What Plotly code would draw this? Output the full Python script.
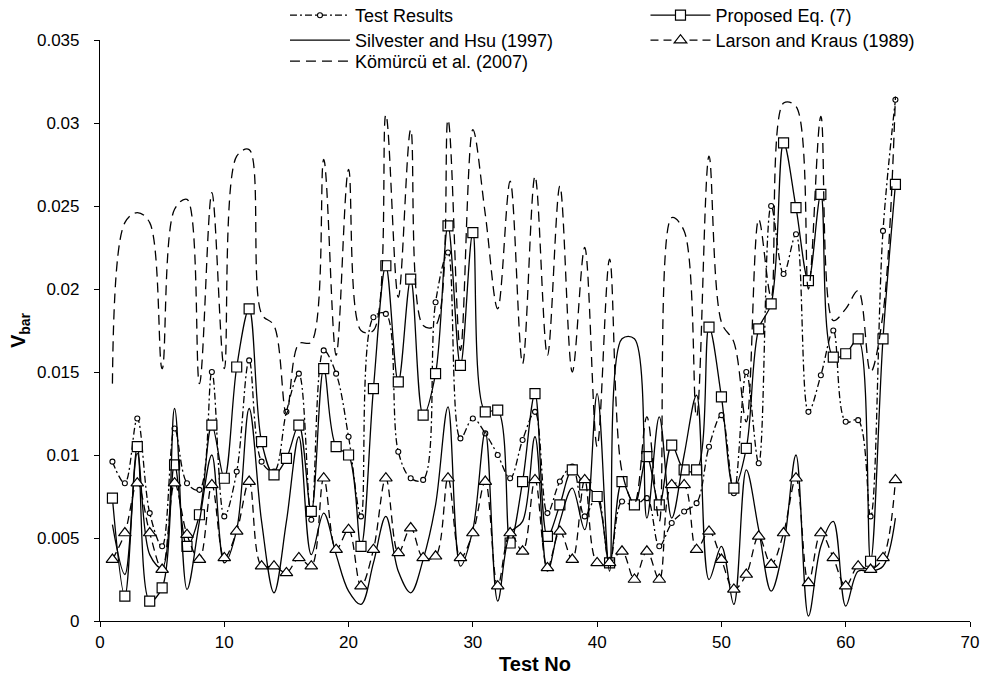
import plotly.graph_objects as go

test_no = list(range(1, 65))

test_results = [0.0096, 0.0083, 0.0122, 0.0065, 0.0045, 0.0116, 0.0083, 0.0079, 0.0150, 0.0063,
                0.0090, 0.0157, 0.0096, 0.0090, 0.0126, 0.0149, 0.0061, 0.0163, 0.0149, 0.0111,
                0.0063, 0.0183, 0.0185, 0.0102, 0.0086, 0.0085, 0.0192, 0.0222, 0.0110, 0.0122,
                0.0113, 0.0100, 0.0086, 0.0109, 0.0126, 0.0065, 0.0084, 0.0093, 0.0063, 0.0076,
                0.0034, 0.0072, 0.0069, 0.0074, 0.0045, 0.0059, 0.0066, 0.0071, 0.0105, 0.0124,
                0.0077, 0.0150, 0.0095, 0.0250, 0.0209, 0.0233, 0.0126, 0.0148, 0.0175, 0.0120,
                0.0121, 0.0063, 0.0235, 0.0314]

proposed = [0.0074, 0.0015, 0.0105, 0.0012, 0.0020, 0.0094, 0.0045, 0.0064, 0.0118, 0.0086,
            0.0153, 0.0188, 0.0108, 0.0088, 0.0098, 0.0118, 0.0066, 0.0152, 0.0105, 0.0100,
            0.0045, 0.0140, 0.0214, 0.0144, 0.0206, 0.0124, 0.0149, 0.0238, 0.0154, 0.0234,
            0.0126, 0.0127, 0.0047, 0.0084, 0.0137, 0.0051, 0.0070, 0.0091, 0.0082, 0.0075,
            0.0035, 0.0084, 0.0070, 0.0099, 0.0070, 0.0106, 0.0091, 0.0091, 0.0177, 0.0135,
            0.0080, 0.0104, 0.0176, 0.0191, 0.0288, 0.0249, 0.0205, 0.0257, 0.0159, 0.0161,
            0.0170, 0.0036, 0.0170, 0.0263]

silvester = [0.0058, 0.0028, 0.0101, 0.0040, 0.0032, 0.0128, 0.0019, 0.0060, 0.0100, 0.0035,
             0.0055, 0.0128, 0.0060, 0.0017, 0.0060, 0.0111, 0.0040, 0.0065, 0.0040, 0.0018,
             0.0010, 0.0035, 0.0063, 0.0030, 0.0017, 0.0037, 0.0070, 0.0129, 0.0033, 0.0055,
             0.0114, 0.0012, 0.0053, 0.0060, 0.0111, 0.0030, 0.0060, 0.0080, 0.0055, 0.0137,
             0.0030, 0.0170, 0.0170, 0.0062, 0.0123, 0.0062, 0.0100, 0.0136, 0.0025, 0.0045,
             0.0010, 0.0091, 0.0055, 0.0018, 0.0045, 0.0100, 0.0003, 0.0045, 0.0060, 0.0009,
             0.0030, 0.0030, 0.0033, 0.0062]

larson = [0.0037, 0.0053, 0.0083, 0.0053, 0.0031, 0.0083, 0.0052, 0.0037, 0.0082, 0.0038,
          0.0054, 0.0084, 0.0033, 0.0033, 0.0029, 0.0038, 0.0033, 0.0086, 0.0043, 0.0055,
          0.0021, 0.0043, 0.0086, 0.0041, 0.0056, 0.0038, 0.0039, 0.0086, 0.0038, 0.0053,
          0.0084, 0.0021, 0.0053, 0.0042, 0.0085, 0.0032, 0.0054, 0.0037, 0.0085, 0.0035,
          0.0035, 0.0042, 0.0025, 0.0042, 0.0025, 0.0082, 0.0082, 0.0043, 0.0054, 0.0037,
          0.0019, 0.0028, 0.0051, 0.0034, 0.0053, 0.0086, 0.0023, 0.0053, 0.0038, 0.0021,
          0.0033, 0.0031, 0.0038, 0.0085]

komurcu = [0.0143, 0.0240, 0.0246, 0.0240, 0.0152, 0.0248, 0.0254, 0.0143, 0.0258, 0.0152,
           0.0280, 0.0284, 0.0185, 0.0178, 0.0125, 0.0167, 0.0168, 0.0278, 0.0160, 0.0272,
           0.0175, 0.0175, 0.0305, 0.0195, 0.0296, 0.0178, 0.0178, 0.0302, 0.0163, 0.0296,
           0.0245, 0.0188, 0.0265, 0.0155, 0.0268, 0.0160, 0.0262, 0.0150, 0.0225, 0.0105,
           0.0218, 0.0090, 0.0071, 0.0123, 0.0060, 0.0243, 0.0235, 0.0123, 0.0280, 0.0180,
           0.0168, 0.0120, 0.0242, 0.0195, 0.0312, 0.0310, 0.0200, 0.0304, 0.0181, 0.0188,
           0.0199, 0.0150, 0.0185, 0.0316]

FONT = "Liberation Sans, Arial, Helvetica, sans-serif"
LW = 1.3

fig = go.Figure()

fig.add_trace(go.Scatter(
    x=test_no, y=test_results, name="Test Results", mode="lines+markers", legend="legend",
    line=dict(color="black", width=LW, dash="7px,3px,2px,3px", shape="spline", smoothing=1.0),
    marker=dict(symbol="circle", size=5, color="white", line=dict(color="black", width=1.1))))

fig.add_trace(go.Scatter(
    x=test_no, y=proposed, name="Proposed Eq. (7)", mode="lines+markers", legend="legend2",
    line=dict(color="black", width=LW, shape="spline", smoothing=1.0),
    marker=dict(symbol="square", size=10, color="white", line=dict(color="black", width=1.2))))

fig.add_trace(go.Scatter(
    x=test_no, y=silvester, name="Silvester and Hsu (1997)", mode="lines", legend="legend3",
    line=dict(color="black", width=LW, shape="spline", smoothing=1.0)))

fig.add_trace(go.Scatter(
    x=test_no, y=larson, name="Larson and Kraus (1989)", mode="lines+markers", legend="legend4",
    line=dict(color="black", width=LW, dash="8px,5px", shape="spline", smoothing=1.0),
    marker=dict(symbol="triangle-up", size=11, color="white", line=dict(color="black", width=1.2))))

fig.add_trace(go.Scatter(
    x=test_no, y=komurcu, name="Kömürcü et al. (2007)", mode="lines", legend="legend5",
    line=dict(color="black", width=LW, dash="10px,6px", shape="spline", smoothing=1.0)))

leg_common = dict(orientation="v", xanchor="left", yanchor="top",
                  font=dict(family=FONT, size=18, color="black"),
                  bgcolor="rgba(0,0,0,0)", itemwidth=60)

col1_x, col2_x = 0.2126, 0.627
row_y = [1.0740, 1.0310, 0.9948]

fig.update_layout(
    width=995, height=678,
    margin=dict(l=100, r=25, t=40, b=57, autoexpand=False),
    paper_bgcolor="white", plot_bgcolor="white",
    font=dict(family=FONT, size=17, color="black"),
    showlegend=True,
    legend=dict(x=col1_x, y=row_y[0], **leg_common),
    legend2=dict(x=col2_x, y=row_y[0], **leg_common),
    legend3=dict(x=col1_x, y=row_y[1], **leg_common),
    legend4=dict(x=col2_x, y=row_y[1], **leg_common),
    legend5=dict(x=col1_x, y=row_y[2], **leg_common),
    xaxis=dict(range=[0, 70], dtick=10, tick0=0, showgrid=False, zeroline=False,
               showline=True, linecolor="black", linewidth=1.2,
               ticks="outside", ticklen=5, tickcolor="black",
               tickfont=dict(family=FONT, size=17),
               title=dict(text="<b>Test No</b>", font=dict(family=FONT, size=20), standoff=6)),
    yaxis=dict(range=[0, 0.035], dtick=0.005, tick0=0, showgrid=False, zeroline=False,
               showline=True, linecolor="black", linewidth=1.2,
               ticks="outside", ticklen=5, tickcolor="black", ticklabelstandoff=11,
               tickfont=dict(family=FONT, size=17),
               title=dict(text="<b>V<sub>bar</sub></b>", font=dict(family=FONT, size=20), standoff=5)),
)

fig.write_html("out.html", config={"displayModeBar": False},
               post_script="document.body.style.margin='0px';")
